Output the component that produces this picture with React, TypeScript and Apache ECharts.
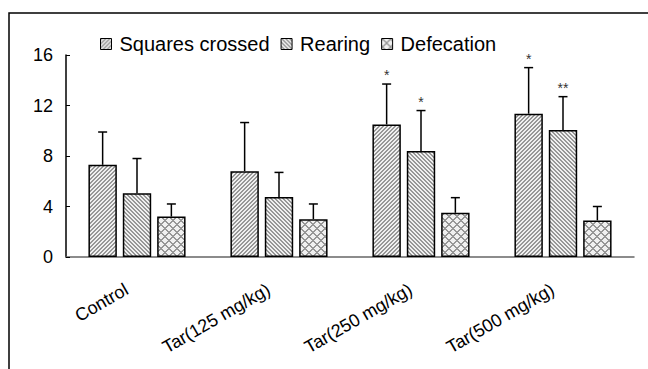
import React, { useEffect, useRef } from "react";
import * as echarts from "echarts";

const categories = ["Control", "Tar(125 mg/kg)", "Tar(250 mg/kg)", "Tar(500 mg/kg)"];
const seriesNames = ["Squares crossed", "Rearing", "Defecation"];
const squaresCrossed = [7.3, 6.8, 10.5, 11.35];
const squaresErr = [2.6, 3.85, 3.2, 3.65];
const squaresStars = ["", "", "*", "*"];
const rearing = [5.05, 4.75, 8.4, 10.05];
const rearingErr = [2.75, 1.95, 3.2, 2.65];
const rearingStars = ["", "", "*", "**"];
const defecation = [3.2, 3.0, 3.5, 2.9];
const defecationErr = [1.0, 1.2, 1.2, 1.1];
const defecationStars = ["", "", "", ""];
const yTicks = { min: 0, max: 16, interval: 4 };

function makeTile(kind: string): HTMLCanvasElement {
  const size = kind === "cross" ? 8 : 4;
  const c = document.createElement("canvas");
  c.width = size;
  c.height = size;
  const ctx = c.getContext("2d")!;
  for (let x = 0; x < size; x++) {
    for (let y = 0; y < size; y++) {
      let dark = false;
      if (kind === "fwd") dark = (x + y) % 4 < 2;
      else if (kind === "back") dark = (((x - y) % 4) + 4) % 4 < 2;
      else {
        const u = (x + y) % 8;
        const v = (((x - y) % 8) + 8) % 8;
        dark = u < 2 || v < 2;
      }
      ctx.fillStyle = dark ? "#979797" : "#f0f0f0";
      ctx.fillRect(x, y, 1, 1);
    }
  }
  return c;
}

export default function App() {
  const ref = useRef<HTMLDivElement>(null);
  useEffect(() => {
    document.body.style.margin = "0";
    const chart = echarts.init(ref.current!, null, { renderer: "svg" });
    const patterns = [makeTile("fwd"), makeTile("back"), makeTile("cross")].map((img) => ({
      image: img,
      repeat: "repeat",
    }));
    const values = [squaresCrossed, rearing, defecation];
    const errs = [squaresErr, rearingErr, defecationErr];
    const stars = [squaresStars, rearingStars, defecationStars];
    const font = "Liberation Sans, Arial, sans-serif";

    const bars = values.map((vals, si) => ({
      name: seriesNames[si],
      type: "bar",
      data: vals,
      barWidth: "20%",
      barGap: "21%",
      itemStyle: { color: patterns[si] as any, borderColor: "#000", borderWidth: 1.5 },
      z: 2,
    }));

    const errSeries = values.map((vals, si) => ({
      type: "custom",
      name: "err" + si,
      z: 5,
      data: categories.map((_, i) => [i, vals[i], errs[si][i], si]),
      renderItem: (params: any, api: any) => {
        const idx = api.value(0);
        const v = api.value(1);
        const e = api.value(2);
        const band = api.size([1, 0])[0];
        const off = (si - 1) * 0.242 * band;
        const base = api.coord([idx, v]);
        const top = api.coord([idx, v + e]);
        const x = base[0] + off;
        const children: any[] = [
          { type: "line", shape: { x1: x, y1: base[1], x2: x, y2: top[1] }, style: { stroke: "#000", lineWidth: 1.5 } },
          { type: "line", shape: { x1: x - 4.5, y1: top[1], x2: x + 4.5, y2: top[1] }, style: { stroke: "#000", lineWidth: 1.5 } },
        ];
        const s = stars[si][idx];
        if (s) {
          children.push({
            type: "text",
            x: x,
            y: top[1] - 2,
            style: { text: s, fill: "#333", font: "14px " + font, textAlign: "center", textVerticalAlign: "bottom" },
          });
        }
        return { type: "group", children };
      },
    }));

    chart.setOption({
      animation: false,
      backgroundColor: "#fff",
      grid: { left: 66, right: 14, top: 55, bottom: 112, containLabel: false },
      legend: {
        data: seriesNames,
        left: 100,
        top: 34,
        padding: 0,
        itemWidth: 11,
        itemHeight: 11,
        itemGap: 11,
        icon: "rect",
        itemStyle: { borderColor: "#000", borderWidth: 1 },
        textStyle: { fontSize: 20, color: "#000", fontFamily: font, padding: [0, 0, 0, 3] },
      },
      xAxis: {
        type: "category",
        data: categories,
        boundaryGap: true,
        axisLine: { lineStyle: { color: "#666", width: 1.5 } },
        axisTick: { inside: true, length: 4, interval: 0, lineStyle: { color: "#444" } },
        axisLabel: {
          interval: 0,
          rotate: 30,
          margin: 25,
          padding: [0, 12, 0, 0],
          fontSize: 18,
          color: "#000",
          fontFamily: font,
        },
      },
      yAxis: {
        type: "value",
        min: yTicks.min,
        max: yTicks.max,
        interval: yTicks.interval,
        axisLine: { show: true, lineStyle: { color: "#000", width: 1.5 } },
        axisTick: { show: true, inside: true, length: 4, lineStyle: { color: "#000" } },
        splitLine: { show: false },
        axisLabel: { fontSize: 18, color: "#000", fontFamily: font, margin: 13 },
      },
      graphic: [
        {
          type: "rect",
          shape: { x: 9, y: 13, width: 700, height: 420 },
          style: { fill: "none", stroke: "#000", lineWidth: 1.5 },
          silent: true,
        },
      ],
      series: [...bars, ...errSeries],
    });
    return () => chart.dispose();
  }, []);
  return <div ref={ref} style={{ width: 648, height: 369 }} />;
}
